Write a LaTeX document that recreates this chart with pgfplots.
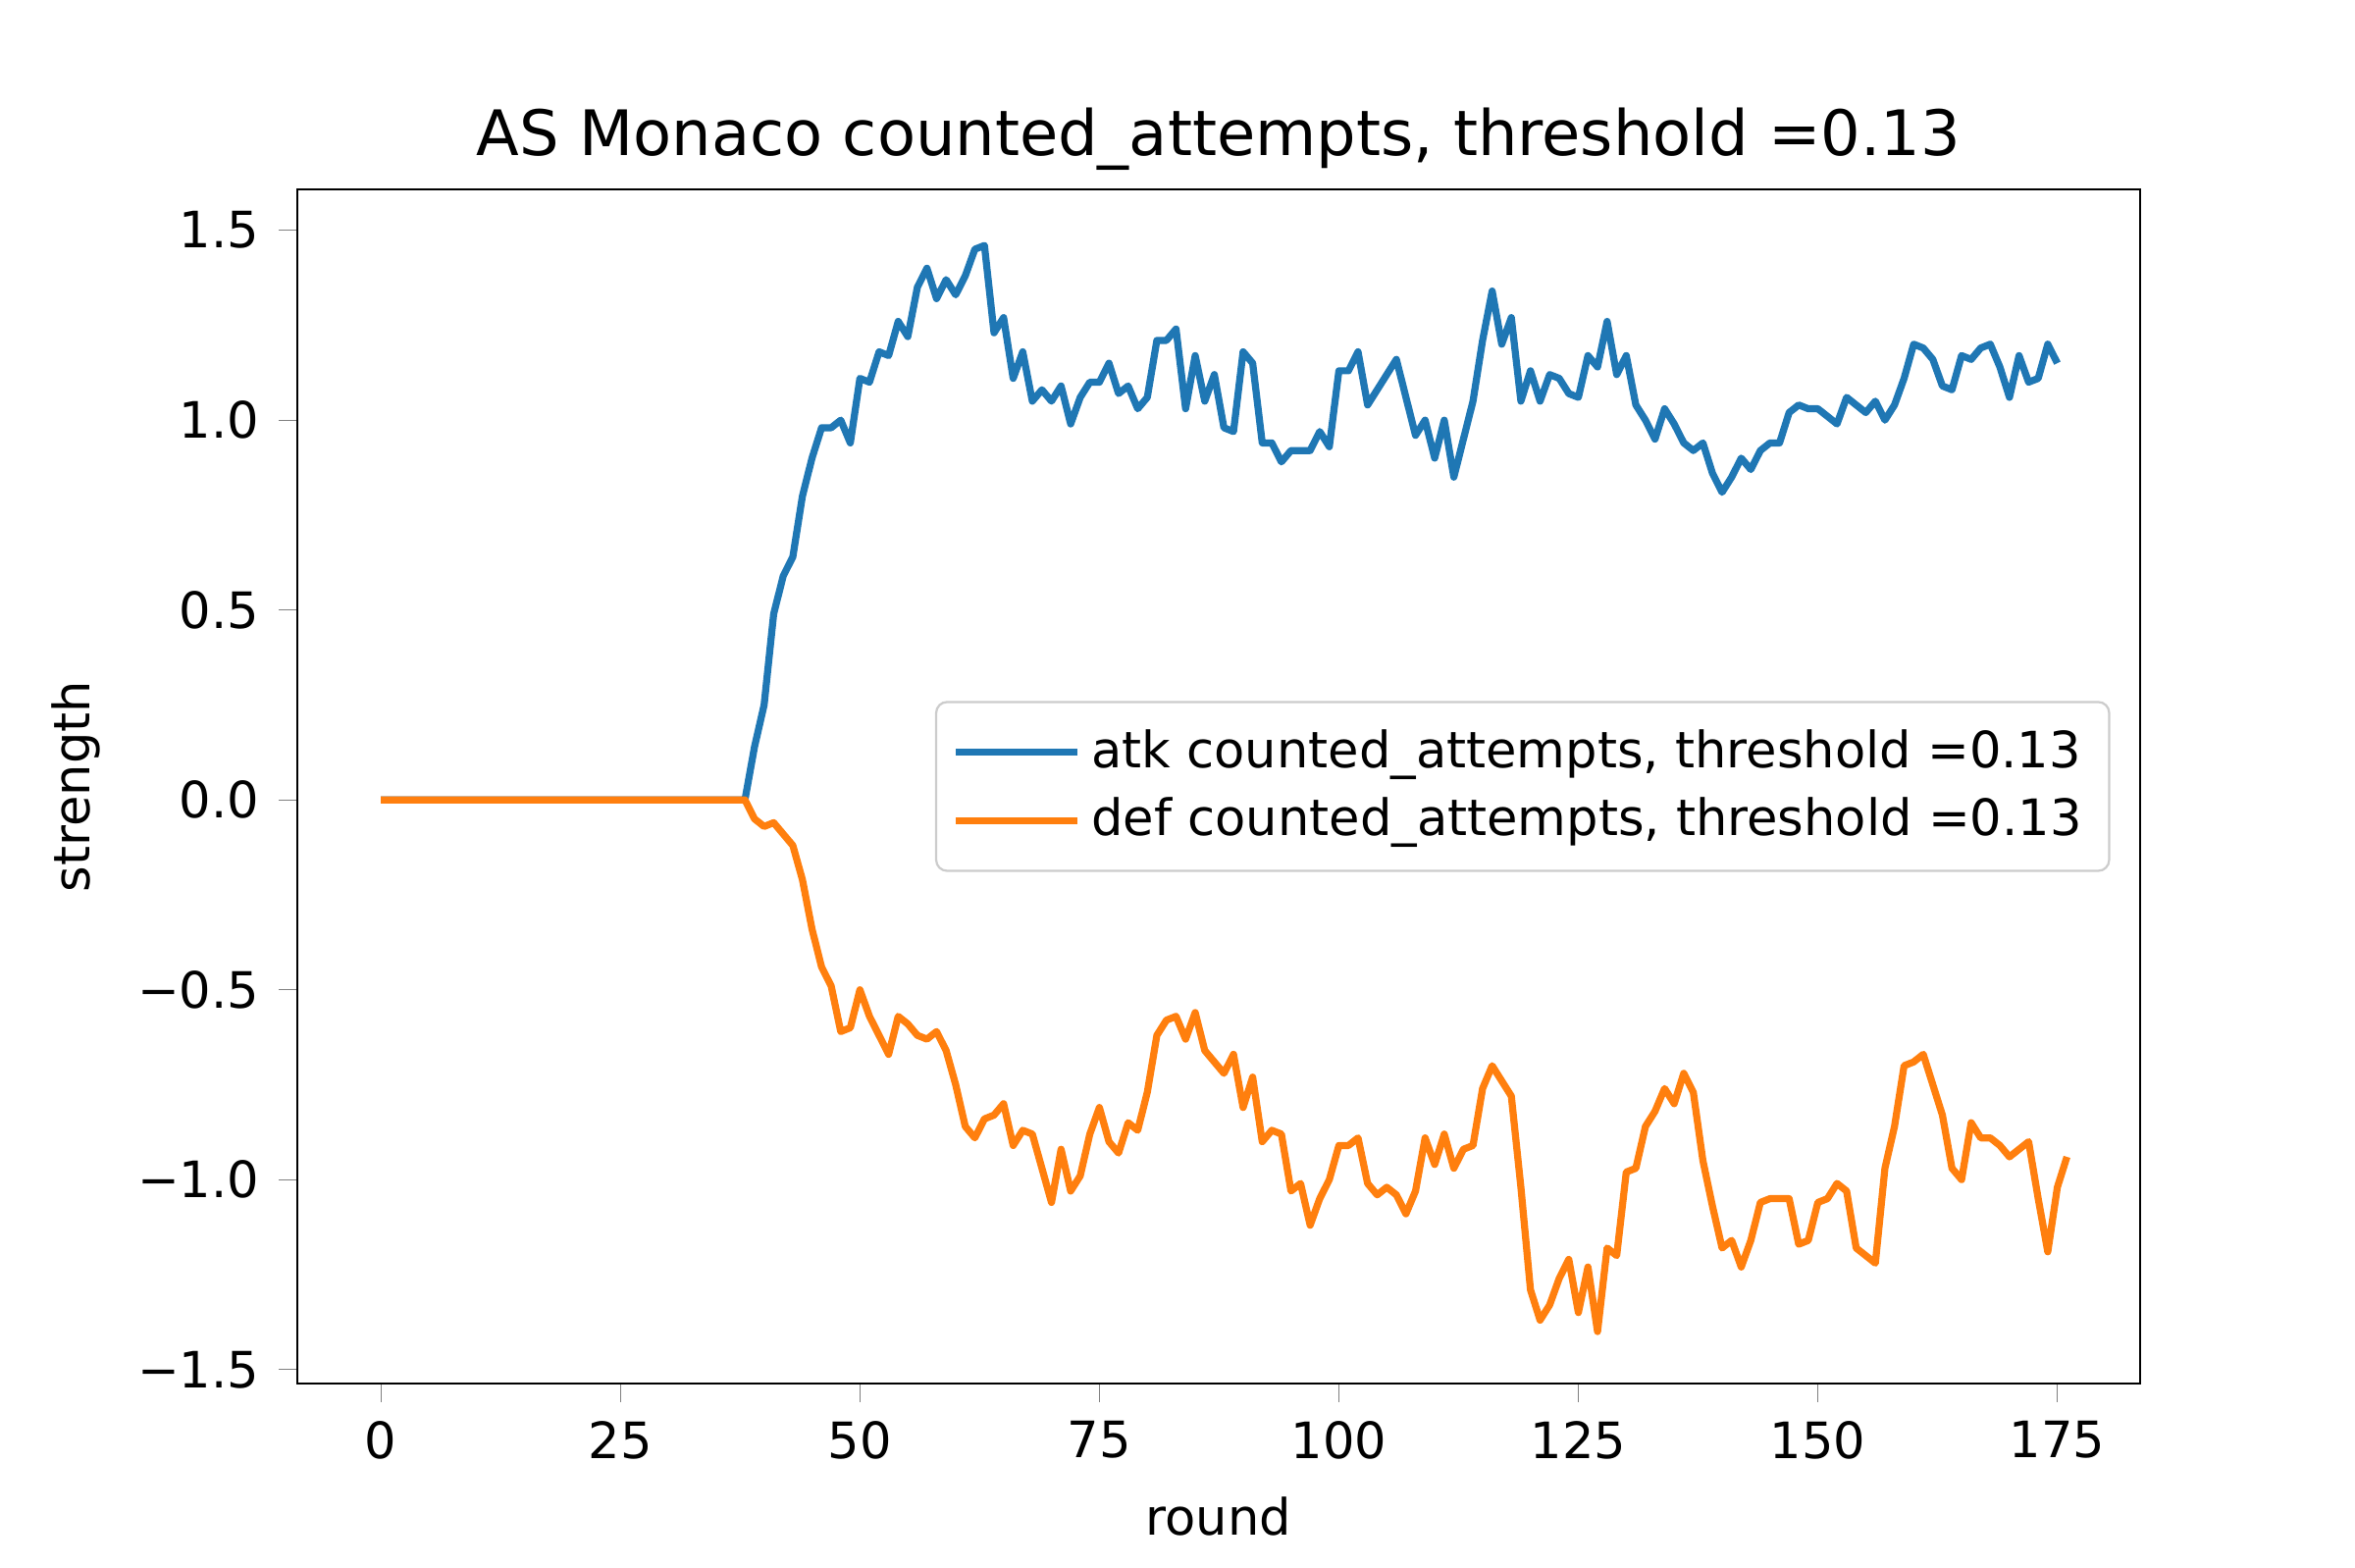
\documentclass[border=0pt]{standalone}
\usepackage{pgfplots}
\pgfplotsset{compat=1.18}
\usepackage{fontspec}
\setmainfont{DejaVu Sans}
\definecolor{mblue}{HTML}{1F77B4}
\definecolor{morange}{HTML}{FF7F0E}
\begin{document}
\begin{tikzpicture}
\begin{axis}[name=ax, scale only axis, width=338pt, height=219pt,
 xmin=-8.7, xmax=183.6, ymin=-1.536, ymax=1.607,
 xtick={0,25,...,175}, ytick={-1.5,-1,-0.5,0,0.5,1,1.5},
 yticklabels={−1.5,−1.0,−0.5,0.0,0.5,1.0,1.5},
 /pgf/number format/assume math mode=true,
 tick align=outside, tick pos=left, major tick length=3.5pt,
 tick label style={font=\fontsize{9.2}{11}\selectfont},
 xlabel={round}, ylabel={strength},
 label style={font=\fontsize{9.2}{11}\selectfont},
 title={AS Monaco counted\_attempts, threshold =0.13},
 title style={font=\fontsize{11.5}{14}\selectfont, yshift=-6pt},
 legend style={at={(0.984,0.5)}, anchor=east, font=\fontsize{9.2}{11}\selectfont, draw=black!20, rounded corners=2pt, row sep=0pt, inner sep=3pt},
 legend image post style={xscale=1.3},
 legend cell align=left,
 every axis plot/.append style={line width=1.3pt, line join=round},
]
\addplot[mblue] table {
0 0
38 0
39 0.14
40 0.25
41 0.49
42 0.59
43 0.64
44 0.80
45 0.90
46 0.98
47 0.98
48 1.00
49 0.94
50 1.11
51 1.10
52 1.18
53 1.17
54 1.26
55 1.22
56 1.35
57 1.40
58 1.32
59 1.37
60 1.33
61 1.38
62 1.45
63 1.46
64 1.23
65 1.27
66 1.11
67 1.18
68 1.05
69 1.08
70 1.05
71 1.09
72 0.99
73 1.06
74 1.10
75 1.10
76 1.15
77 1.07
78 1.09
79 1.03
80 1.06
81 1.21
82 1.21
83 1.24
84 1.03
85 1.17
86 1.05
87 1.12
88 0.98
89 0.97
90 1.18
91 1.15
92 0.94
93 0.94
94 0.89
95 0.92
96 0.92
97 0.92
98 0.97
99 0.93
100 1.13
101 1.13
102 1.18
103 1.04
104 1.08
105 1.12
106 1.16
107 1.06
108 0.96
109 1.00
110 0.90
111 1.00
112 0.85
113 0.95
114 1.05
115 1.21
116 1.34
117 1.20
118 1.27
119 1.05
120 1.13
121 1.05
122 1.12
123 1.11
124 1.07
125 1.06
126 1.17
127 1.14
128 1.26
129 1.12
130 1.17
131 1.04
132 1.00
133 0.95
134 1.03
135 0.99
136 0.94
137 0.92
138 0.94
139 0.86
140 0.81
141 0.85
142 0.90
143 0.87
144 0.92
145 0.94
146 0.94
147 1.02
148 1.04
149 1.03
150 1.03
151 1.01
152 0.99
153 1.06
154 1.04
155 1.02
156 1.05
157 1.00
158 1.04
159 1.11
160 1.20
161 1.19
162 1.16
163 1.09
164 1.08
165 1.17
166 1.16
167 1.19
168 1.20
169 1.14
170 1.06
171 1.17
172 1.10
173 1.11
174 1.20
175 1.15
};
\addlegendentry{atk counted\_attempts, threshold =0.13}
\addplot[morange] table {
0 0
38 0
39 -0.05
40 -0.07
41 -0.06
42 -0.09
43 -0.12
44 -0.21
45 -0.34
46 -0.44
47 -0.49
48 -0.61
49 -0.60
50 -0.50
51 -0.57
52 -0.62
53 -0.67
54 -0.57
55 -0.59
56 -0.62
57 -0.63
58 -0.61
59 -0.66
60 -0.75
61 -0.86
62 -0.89
63 -0.84
64 -0.83
65 -0.80
66 -0.91
67 -0.87
68 -0.88
69 -0.97
70 -1.06
71 -0.92
72 -1.03
73 -0.99
74 -0.88
75 -0.81
76 -0.90
77 -0.93
78 -0.85
79 -0.87
80 -0.77
81 -0.62
82 -0.58
83 -0.57
84 -0.63
85 -0.56
86 -0.66
87 -0.69
88 -0.72
89 -0.67
90 -0.81
91 -0.73
92 -0.90
93 -0.87
94 -0.88
95 -1.03
96 -1.01
97 -1.12
98 -1.05
99 -1.00
100 -0.91
101 -0.91
102 -0.89
103 -1.01
104 -1.04
105 -1.02
106 -1.04
107 -1.09
108 -1.03
109 -0.89
110 -0.96
111 -0.88
112 -0.97
113 -0.92
114 -0.91
115 -0.76
116 -0.70
117 -0.74
118 -0.78
119 -1.02
120 -1.29
121 -1.37
122 -1.33
123 -1.26
124 -1.21
125 -1.35
126 -1.23
127 -1.40
128 -1.18
129 -1.20
130 -0.98
131 -0.97
132 -0.86
133 -0.82
134 -0.76
135 -0.80
136 -0.72
137 -0.77
138 -0.95
139 -1.07
140 -1.18
141 -1.16
142 -1.23
143 -1.16
144 -1.06
145 -1.05
146 -1.05
147 -1.05
148 -1.17
149 -1.16
150 -1.06
151 -1.05
152 -1.01
153 -1.03
154 -1.18
155 -1.20
156 -1.22
157 -0.97
158 -0.86
159 -0.70
160 -0.69
161 -0.67
162 -0.75
163 -0.83
164 -0.97
165 -1.00
166 -0.85
167 -0.89
168 -0.89
169 -0.91
170 -0.94
171 -0.92
172 -0.90
173 -1.05
174 -1.19
175 -1.02
176 -0.94
};
\addlegendentry{def counted\_attempts, threshold =0.13}
\end{axis}
\path ([shift={(-54.6pt,-33.9pt)}]ax.south west) rectangle ([shift={(39.5pt,34.8pt)}]ax.north east);
\end{tikzpicture}
\end{document}
